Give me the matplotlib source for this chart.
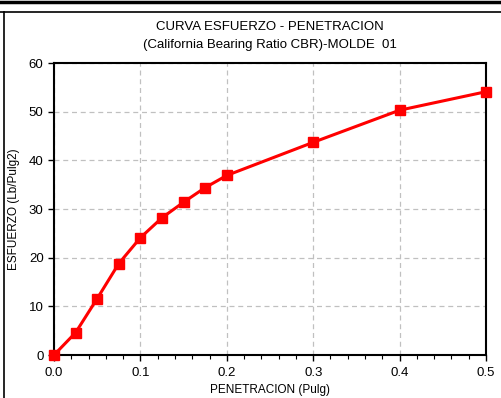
import matplotlib
matplotlib.use("Agg")
import matplotlib.pyplot as plt
from matplotlib.lines import Line2D
from matplotlib.ticker import MultipleLocator

plt.rcParams['font.family'] = ['Liberation Sans', 'DejaVu Sans']

penetracion = [0.0, 0.025, 0.05, 0.075, 0.1, 0.125, 0.15, 0.175, 0.2, 0.3, 0.4, 0.5]
esfuerzo = [0.0, 4.6, 11.6, 18.8, 24.1, 28.2, 31.4, 34.4, 36.9, 43.7, 50.3, 54.1]
x_ticks = [0.0, 0.1, 0.2, 0.3, 0.4, 0.5]
y_ticks = [0, 10, 20, 30, 40, 50, 60]

fig = plt.figure(figsize=(5.01, 3.98), dpi=100)
ax = fig.add_axes([54/501, 1-355/398, (486-54)/501, (355-63)/398])

ax.plot(penetracion, esfuerzo, color='#ff0000', lw=2.2, marker='s', ms=7.5,
        markerfacecolor='#ff0000', markeredgecolor='#ff0000', clip_on=False, zorder=3)

ax.set_xlim(0, 0.5)
ax.set_ylim(0, 60)
ax.set_xticks(x_ticks)
ax.set_xticklabels([f"{v:.1f}" for v in x_ticks])
ax.set_yticks(y_ticks)
ax.xaxis.set_minor_locator(MultipleLocator(0.02))
ax.grid(True, which='major', color='#c0c0c0', ls=(0, (4, 3)), lw=0.9)
ax.tick_params(axis='both', which='major', direction='out', length=4, width=1, labelsize=9.5, color='black')
ax.tick_params(axis='x', which='minor', direction='out', length=3, width=0.8)
ax.tick_params(axis='x', pad=5)
for s in ax.spines.values():
    s.set_color('black')
    s.set_linewidth(1.5)

ax.set_xlabel("PENETRACION (Pulg)", fontsize=8.5)
ax.xaxis.set_label_coords(0.5, -(384-355)/292)
ax.set_ylabel("ESFUERZO (Lb/Pulg2)", fontsize=8.5, labelpad=6)
fig.text(270/501, 1-27/398, "CURVA ESFUERZO - PENETRACION", ha='center', va='center', fontsize=9.5)
fig.text(270/501, 1-45/398, "(California Bearing Ratio CBR)-MOLDE  01", ha='center', va='center', fontsize=9.5)

fig.add_artist(Line2D([0, 1], [1-2/398, 1-2/398], color='black', lw=2.5, transform=fig.transFigure))
fig.add_artist(Line2D([0, 1], [1-12/398, 1-12/398], color='black', lw=1.2, transform=fig.transFigure))
fig.add_artist(Line2D([4/501, 4/501], [0, 1-12/398], color='black', lw=1.2, transform=fig.transFigure))

fig.savefig("out.png", dpi=100)
